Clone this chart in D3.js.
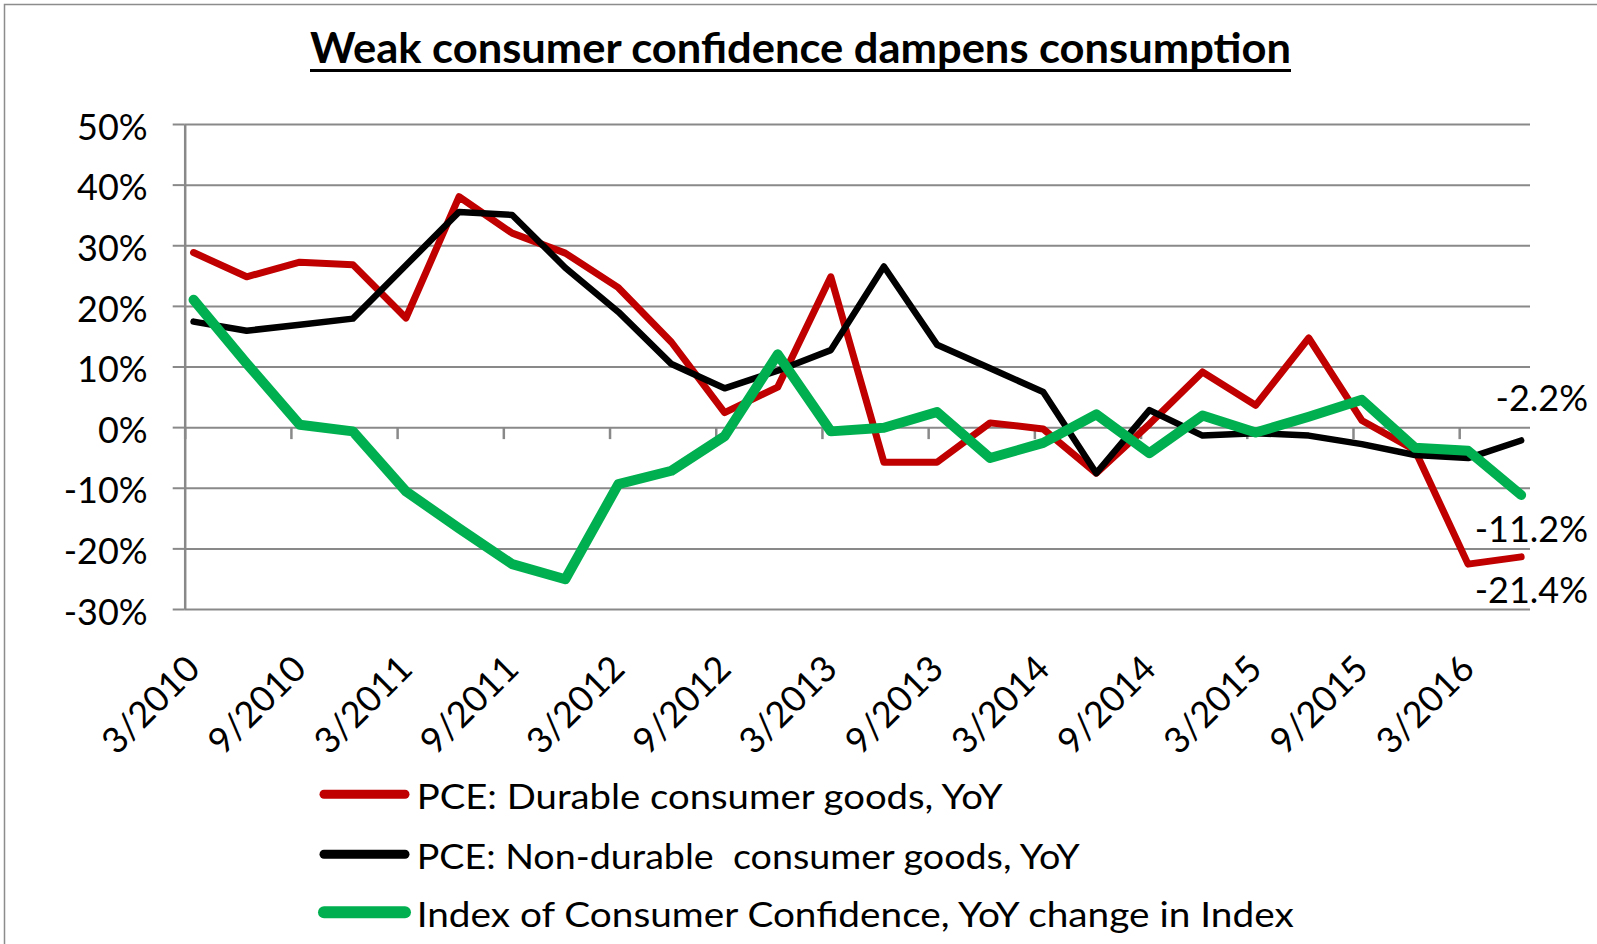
<!DOCTYPE html>
<html>
<head>
<meta charset="utf-8">
<script src="https://d3js.org/d3.v7.min.js"></script>
<style>
    body { margin: 0; background: #fff; }
    svg text { font-family: Lato, "Open Sans", sans-serif; fill: #000; }
</style>
</head>
<body>
<script>
    // quarterly observations (month/year)
    var quarters = ["3/2010", "6/2010", "9/2010", "12/2010", "3/2011", "6/2011", "9/2011", "12/2011",
                    "3/2012", "6/2012", "9/2012", "12/2012", "3/2013", "6/2013", "9/2013", "12/2013",
                    "3/2014", "6/2014", "9/2014", "12/2014", "3/2015", "6/2015", "9/2015", "12/2015",
                    "3/2016", "6/2016"];

    // YoY, in %
    var durable    = [28.8, 24.8, 27.2, 26.8, 18.0, 38.0, 32.0, 28.7, 23.0, 14.0, 2.4, 6.6, 24.8,
                      -5.8, -5.8, 0.7, -0.3, -7.6, 0.5, 9.1, 3.6, 14.7, 1.1, -3.8, -22.6, -21.4];
    var nondurable = [17.4, 15.9, 16.9, 17.9, 26.7, 35.5, 35.0, 26.3, 19.0, 10.4, 6.4, 9.3, 12.7,
                      26.5, 13.6, 9.7, 5.8, -7.6, 2.8, -1.4, -1.0, -1.4, -2.8, -4.6, -5.1, -2.2];
    var confidence = [21.0, 10.5, 0.4, -0.7, -10.6, -16.7, -22.6, -25.1, -9.4, -7.2, -1.5, 12.0, -0.7,
                      -0.1, 2.5, -5.1, -2.6, 2.1, -4.3, 1.9, -0.9, 1.7, 4.5, -3.4, -3.9, -11.2];

    var seriesNames = ["PCE: Durable consumer goods, YoY",
                       "PCE: Non-durable  consumer goods, YoY",
                       "Index of Consumer Confidence, YoY change in Index"];
    var endLabels = ["-21.4%", "-2.2%", "-11.2%"];

    var tickLabels = ["3/2010", "9/2010", "3/2011", "9/2011", "3/2012", "9/2012", "3/2013",
                      "9/2013", "3/2014", "9/2014", "3/2015", "9/2015", "3/2016"];
    var yTicks = [-30, -20, -10, 0, 10, 20, 30, 40, 50];

    var title = "Weak consumer confidence dampens consumption";

    // styles
    var colors = ["#c00000", "#000000", "#00b050"];
    var widths = [7, 6.5, 10];
    var keyWidths = [9, 9, 12];
    var labelDy = [46, -29, 47];
    var legendWidths = [586, 663, 877];

    function monthIndex(s) {
        var p = s.split("/");
        return (+p[1]) * 12 + (+p[0] - 1);
    }

    var w = 1597, h = 944;
    var plotL = 184.7, plotR = 1530, plotT = 124, plotB = 609;

    var svg = d3.select("body").append("svg")
        .attr("width", w)
        .attr("height", h);

    // outer frame
    svg.append("rect")
        .attr("x", 4.5).attr("y", 4.5)
        .attr("width", w + 20).attr("height", h + 20)
        .attr("fill", "none")
        .attr("stroke", "#8c8c8c")
        .attr("stroke-width", 1.5);

    var x = d3.scaleLinear()
        .domain([monthIndex(quarters[0]) - 0.5, monthIndex(quarters[quarters.length - 1]) + 0.5])
        .range([plotL, plotR]);
    var y = d3.scaleLinear().domain([-30, 50]).range([plotB, plotT]);

    // title
    svg.append("text")
        .attr("x", 310).attr("y", 63.3)
        .attr("font-size", 42)
        .attr("font-weight", "bold")
        .attr("textLength", 981)
        .attr("lengthAdjust", "spacingAndGlyphs")
        .text(title);
    svg.append("line")
        .attr("x1", 310).attr("x2", 1291)
        .attr("y1", 70.5).attr("y2", 70.5)
        .attr("stroke", "#000").attr("stroke-width", 3);

    // gridlines
    var grid = svg.append("g")
        .attr("transform", "translate(" + plotL + ",0)")
        .call(d3.axisLeft(y).tickValues(yTicks).tickSize(-(plotR - plotL)).tickFormat(""));
    grid.select(".domain").remove();
    grid.selectAll("line").attr("stroke", "#898989").attr("stroke-width", 2);

    // y axis
    var yAxis = svg.append("g")
        .attr("transform", "translate(" + plotL + ",0)")
        .call(d3.axisLeft(y).tickValues(yTicks).tickSize(12).tickSizeOuter(0).tickPadding(25)
            .tickFormat(function(d) { return d + "%"; }));
    yAxis.select(".domain").attr("stroke", "#898989").attr("stroke-width", 2.5);
    yAxis.selectAll("line").attr("stroke", "#898989").attr("stroke-width", 2);
    yAxis.selectAll("text")
        .attr("font-size", 36)
        .attr("dy", "0.42em")
        .style("font-family", "Lato, sans-serif");

    // x ticks on the zero line, every 6 months
    var xTicks = svg.append("g")
        .attr("transform", "translate(0," + y(0) + ")")
        .call(d3.axisBottom(x)
            .tickValues(tickLabels.map(function(d) { return monthIndex(d) - 0.5; }))
            .tickSize(12).tickFormat(""));
    xTicks.select(".domain").remove();
    xTicks.selectAll("line").attr("stroke", "#898989").attr("stroke-width", 2.5);

    // x labels at the bottom, rotated
    var xLab = svg.append("g")
        .attr("transform", "translate(0," + plotB + ")")
        .call(d3.axisBottom(x)
            .tickValues(tickLabels.map(monthIndex))
            .tickSize(0)
            .tickFormat(function(d, i) { return tickLabels[i]; }));
    xLab.select(".domain").remove();
    xLab.selectAll("text")
        .attr("font-size", 36)
        .attr("text-anchor", "end")
        .attr("x", 0).attr("y", 0).attr("dy", null)
        .attr("transform", "translate(8,62) rotate(-45)")
        .style("font-family", "Lato, sans-serif");

    // lines
    var series = [durable, nondurable, confidence];
    var line = d3.line()
        .x(function(d, i) { return x(monthIndex(quarters[i])); })
        .y(function(d) { return y(d); });

    svg.selectAll("path.series")
        .data(series)
        .enter()
        .append("path")
        .attr("class", "series")
        .attr("d", line)
        .attr("fill", "none")
        .attr("stroke", function(d, i) { return colors[i]; })
        .attr("stroke-width", function(d, i) { return widths[i]; })
        .attr("stroke-linejoin", "round")
        .attr("stroke-linecap", "round");

    // end labels
    var last = quarters.length - 1;
    svg.selectAll("text.endlab")
        .data(series)
        .enter()
        .append("text")
        .attr("class", "endlab")
        .attr("x", 1588)
        .attr("y", function(d, i) { return y(d[last]) + labelDy[i]; })
        .attr("text-anchor", "end")
        .attr("font-size", 36)
        .text(function(d, i) { return endLabels[i]; });

    // legend
    var legend = svg.selectAll("g.legend")
        .data(seriesNames)
        .enter()
        .append("g")
        .attr("class", "legend")
        .attr("transform", function(d, i) { return "translate(0," + [794.3, 854.3, 912.3][i] + ")"; });

    legend.append("line")
        .attr("x1", 324).attr("x2", 405)
        .attr("y1", 0).attr("y2", 0)
        .attr("stroke", function(d, i) { return colors[i]; })
        .attr("stroke-width", function(d, i) { return keyWidths[i]; })
        .attr("stroke-linecap", "round");

    legend.append("text")
        .attr("x", 416.7)
        .attr("y", 14.5)
        .attr("font-size", 35)
        .attr("textLength", function(d, i) { return legendWidths[i]; })
        .attr("lengthAdjust", "spacingAndGlyphs")
        .style("white-space", "pre")
        .text(function(d) { return d; });
</script>
</body>
</html>
